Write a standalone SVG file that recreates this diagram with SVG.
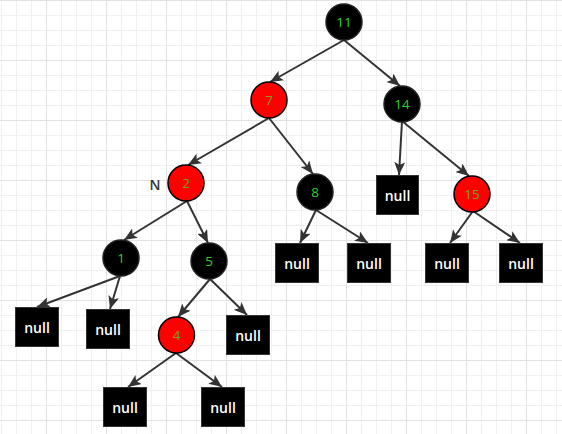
<svg xmlns="http://www.w3.org/2000/svg" width="562" height="434" viewBox="0 0 562 434">
<defs>
<pattern id="grid" x="1" y="0" width="60" height="60" patternUnits="userSpaceOnUse">
<path d="M0.5 0V60M15.5 0V60M30.5 0V60M0 15.5H60M0 30.5H60M0 45.5H60" stroke="#f0f0f0" stroke-width="1" fill="none"/>
<path d="M45.5 0V60M0 0.5H60" stroke="#e2e2e2" stroke-width="1" fill="none"/>
</pattern>
<marker id="arr" viewBox="0 0 13 11" refX="13" refY="5.5" markerWidth="13" markerHeight="11" markerUnits="userSpaceOnUse" orient="auto">
<path d="M0 0L13 5.5L0 11L3 5.5Z" fill="#333"/>
</marker>
<style>
.e{stroke:#333;stroke-width:2;fill:none;marker-end:url(#arr)}
.bc{fill:#000;stroke:#222;stroke-width:1.5}
.rc{fill:#f00;stroke:#000;stroke-width:1.5}
.nb{fill:#000;stroke:#333;stroke-width:1}
.t{font-family:"Open Sans","Noto Sans",sans-serif;font-size:13.5px;text-anchor:middle;dominant-baseline:central}
.g{fill:#2ed02e}
.o{fill:#7fa010}
.w{fill:#fff;font-weight:600;font-size:14px}
.lbl{font-family:"Open Sans","Noto Sans",sans-serif;font-size:14px;fill:#333;font-weight:600;text-anchor:middle;dominant-baseline:central}
</style>
</defs>
<rect width="562" height="434" fill="#fff"/>
<rect width="562" height="434" fill="url(#grid)"/>
<g id="connectors">
<line class="e" x1="344" y1="40" x2="270" y2="82"/>
<line class="e" x1="344" y1="40" x2="400" y2="86"/>
<line class="e" x1="269" y1="118" x2="188" y2="165"/>
<line class="e" x1="269" y1="118" x2="313" y2="174"/>
<line class="e" x1="402" y1="121" x2="399" y2="175"/>
<line class="e" x1="402" y1="121" x2="469" y2="176"/>
<line class="e" x1="187" y1="201" x2="124" y2="240"/>
<line class="e" x1="187" y1="201" x2="208" y2="243"/>
<line class="e" x1="316" y1="210" x2="300" y2="243"/>
<line class="e" x1="316" y1="210" x2="368" y2="243"/>
<line class="e" x1="473" y1="211" x2="450" y2="243"/>
<line class="e" x1="473" y1="211" x2="520" y2="243"/>
<line class="e" x1="120" y1="276" x2="37" y2="307"/>
<line class="e" x1="120" y1="276" x2="110" y2="309"/>
<line class="e" x1="210" y1="279" x2="178" y2="317"/>
<line class="e" x1="210" y1="279" x2="247" y2="315"/>
<line class="e" x1="176" y1="353" x2="128" y2="387"/>
<line class="e" x1="176" y1="353" x2="222" y2="387"/>
</g>
<g id="n11"><circle class="bc" cx="344" cy="22" r="18"/><text class="t g" x="344" y="22">11</text></g>
<g id="n7"><circle class="rc" cx="269" cy="100" r="18"/><text class="t o" x="269" y="100">7</text></g>
<g id="n14"><circle class="bc" cx="402" cy="104" r="18"/><text class="t g" x="402" y="104">14</text></g>
<g id="n2"><circle class="rc" cx="186" cy="183" r="18"/><text class="t o" x="186" y="183">2</text></g>
<g id="labelN"><text class="lbl" x="155" y="184">N</text></g>
<g id="n8"><circle class="bc" cx="315" cy="192" r="18"/><text class="t g" x="315" y="192">8</text></g>
<g id="null14"><rect class="nb" x="376.5" y="175.5" width="42" height="39"/><text class="t w" x="397.5" y="195">null</text></g>
<g id="n15"><circle class="rc" cx="472" cy="194" r="18"/><text class="t o" x="472" y="194">15</text></g>
<g id="n1"><circle class="bc" cx="121" cy="258" r="18"/><text class="t g" x="121" y="258">1</text></g>
<g id="n5"><circle class="bc" cx="209" cy="261" r="18"/><text class="t g" x="209" y="261">5</text></g>
<g id="null8a"><rect class="nb" x="275.5" y="243.5" width="43" height="39"/><text class="t w" x="297" y="263">null</text></g>
<g id="null8b"><rect class="nb" x="347.5" y="243.5" width="43" height="39"/><text class="t w" x="369" y="263">null</text></g>
<g id="null15a"><rect class="nb" x="425.5" y="243.5" width="43" height="39"/><text class="t w" x="447" y="263">null</text></g>
<g id="null15b"><rect class="nb" x="499.5" y="243.5" width="43" height="39"/><text class="t w" x="521" y="263">null</text></g>
<g id="null1a"><rect class="nb" x="15.5" y="307.5" width="43" height="39"/><text class="t w" x="37" y="327">null</text></g>
<g id="null1b"><rect class="nb" x="86.5" y="309.5" width="43" height="39"/><text class="t w" x="108" y="329">null</text></g>
<g id="n4"><circle class="rc" cx="176.5" cy="335" r="18"/><text class="t o" x="176.5" y="335">4</text></g>
<g id="null5"><rect class="nb" x="226.5" y="315.5" width="43" height="39"/><text class="t w" x="248" y="335">null</text></g>
<g id="null4a"><rect class="nb" x="103.5" y="387.5" width="43" height="39"/><text class="t w" x="125" y="407">null</text></g>
<g id="null4b"><rect class="nb" x="201.5" y="387.5" width="43" height="39"/><text class="t w" x="223" y="407">null</text></g>
</svg>
